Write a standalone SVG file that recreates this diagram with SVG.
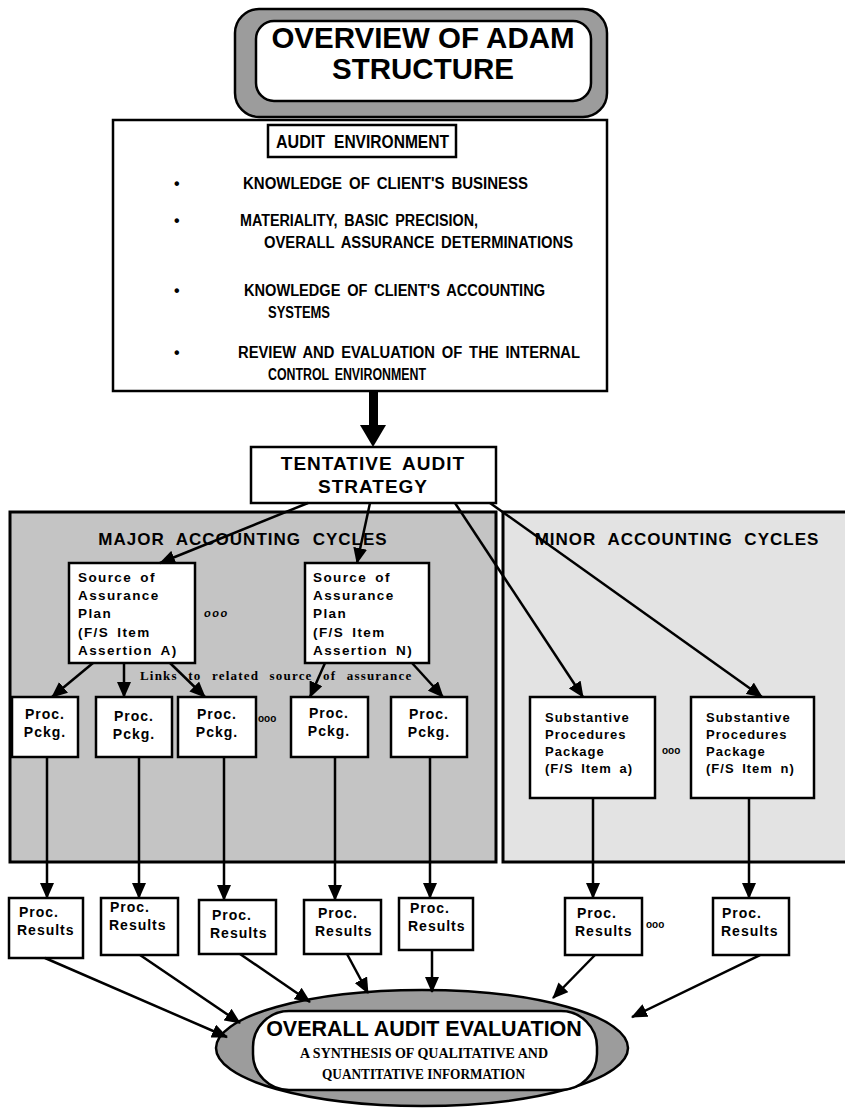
<svg xmlns="http://www.w3.org/2000/svg" width="845" height="1109" viewBox="0 0 845 1109">
  <defs>
    <style>
      .box { fill: #fff; stroke: #000; stroke-width: 2.5; }
      .t { font-family: "Liberation Sans", Arial, Helvetica, sans-serif; font-weight: bold; fill: #000; }
      .s { font-family: "Liberation Serif", "Times New Roman", serif; font-weight: bold; fill: #000; }
      .c { text-anchor: middle; }
      .small { font-size: 13px; letter-spacing: 1px; }
      .plan { font-size: 13.5px; letter-spacing: 1.4px; word-spacing: 3px; }
      .proc { font-size: 14px; letter-spacing: 1px; }
      .bul { word-spacing: 3px; }
      .conn line { stroke: #000; stroke-width: 2.5; fill: none; marker-end: url(#arrow); }
    </style>
    <marker id="arrow" markerUnits="userSpaceOnUse" markerWidth="16" markerHeight="14" refX="15" refY="7" orient="auto">
      <path d="M0,0 L16,7 L0,14 z" fill="#000"/>
    </marker>
  </defs>

  <rect width="845" height="1109" fill="#fff"/>

  <!-- title -->
  <g id="title">
    <rect x="235" y="9" width="372" height="108" rx="24" fill="#9c9c9c" stroke="#000" stroke-width="2.5"/>
    <rect x="256" y="21" width="335" height="80" rx="18" class="box"/>
    <text class="t c" x="423" y="48" font-size="29.5">OVERVIEW OF ADAM</text>
    <text class="t c" x="423" y="79" font-size="29.5">STRUCTURE</text>
  </g>

  <!-- audit environment -->
  <g id="audit-environment">
    <rect x="113" y="120" width="494" height="271" class="box" stroke-width="3"/>
    <rect x="268" y="125" width="188" height="32" class="box"/>
    <text class="t" x="276" y="148" font-size="18" textLength="49" lengthAdjust="spacingAndGlyphs">AUDIT</text>
    <text class="t" x="334" y="148" font-size="18" textLength="115" lengthAdjust="spacingAndGlyphs">ENVIRONMENT</text>
    <g class="t bul" font-size="16">
      <text x="174" y="189">•</text>
      <text x="243" y="189" textLength="285" lengthAdjust="spacingAndGlyphs">KNOWLEDGE OF CLIENT'S BUSINESS</text>
      <text x="174" y="226">•</text>
      <text x="240" y="226" textLength="238" lengthAdjust="spacingAndGlyphs">MATERIALITY, BASIC PRECISION,</text>
      <text x="264" y="248" textLength="309" lengthAdjust="spacingAndGlyphs">OVERALL ASSURANCE DETERMINATIONS</text>
      <text x="174" y="296">•</text>
      <text x="244" y="296" textLength="301" lengthAdjust="spacingAndGlyphs">KNOWLEDGE OF CLIENT'S ACCOUNTING</text>
      <text x="268" y="318" textLength="62" lengthAdjust="spacingAndGlyphs">SYSTEMS</text>
      <text x="174" y="358">•</text>
      <text x="238" y="358" textLength="342" lengthAdjust="spacingAndGlyphs">REVIEW AND EVALUATION OF THE INTERNAL</text>
      <text x="268" y="380" textLength="158" lengthAdjust="spacingAndGlyphs">CONTROL ENVIRONMENT</text>
    </g>
  </g>

  <!-- heavy arrow into the strategy box -->
  <g id="env-arrow">
    <rect x="369" y="391" width="9" height="36" fill="#000"/>
    <polygon points="360,425 386,425 373,447" fill="#000"/>
  </g>

  <!-- cycle panels -->
  <g id="major-cycles">
    <rect x="10" y="512" width="486" height="350" fill="#c4c4c4" stroke="#000" stroke-width="3"/>
    <text class="t c" x="243" y="545" font-size="17" letter-spacing="1" word-spacing="6">MAJOR ACCOUNTING CYCLES</text>
  </g>
  <g id="minor-cycles">
    <rect x="503" y="512" width="346" height="350" fill="#e3e3e3" stroke="#000" stroke-width="3"/>
    <text class="t c" x="677" y="545" font-size="17" letter-spacing="1" word-spacing="6">MINOR ACCOUNTING CYCLES</text>
  </g>

  <!-- strategy -->
  <g id="strategy">
    <rect x="251" y="447" width="245" height="56" class="box" stroke-width="3"/>
    <text class="t c" x="373" y="470" font-size="19" letter-spacing="1" word-spacing="4">TENTATIVE AUDIT</text>
    <text class="t c" x="373" y="493" font-size="19" letter-spacing="1">STRATEGY</text>
  </g>

  <!-- source of assurance plans -->
  <g id="plan-a">
    <rect x="69" y="563" width="126" height="100" class="box"/>
    <g class="t plan">
      <text x="78" y="582">Source of</text>
      <text x="78" y="600">Assurance</text>
      <text x="78" y="618">Plan</text>
      <text x="78" y="637">(F/S Item</text>
      <text x="78" y="655">Assertion A)</text>
    </g>
  </g>
  <text class="t" x="204" y="617" font-size="11" font-style="italic" letter-spacing="1.5">ooo</text>
  <g id="plan-n">
    <rect x="305" y="563" width="124" height="100" class="box"/>
    <g class="t plan">
      <text x="313" y="582">Source of</text>
      <text x="313" y="600">Assurance</text>
      <text x="313" y="618">Plan</text>
      <text x="313" y="637">(F/S Item</text>
      <text x="313" y="655">Assertion N)</text>
    </g>
  </g>

  <text class="s" x="140" y="680" font-size="13" letter-spacing="1.2" word-spacing="6">Links to related source of assurance</text>

  <!-- procedure packages -->
  <g id="pckg-1">
    <rect x="12" y="697" width="66" height="60" class="box"/>
    <text class="t proc c" x="45" y="719">Proc.</text>
    <text class="t proc c" x="45" y="737">Pckg.</text>
  </g>
  <g id="pckg-2">
    <rect x="96" y="697" width="76" height="60" class="box"/>
    <text class="t proc c" x="134" y="721">Proc.</text>
    <text class="t proc c" x="134" y="739">Pckg.</text>
  </g>
  <g id="pckg-3">
    <rect x="178" y="697" width="78" height="60" class="box"/>
    <text class="t proc c" x="217" y="719">Proc.</text>
    <text class="t proc c" x="217" y="737">Pckg.</text>
  </g>
  <text class="t" x="258" y="722" font-size="10">ooo</text>
  <g id="pckg-4">
    <rect x="291" y="697" width="77" height="60" class="box"/>
    <text class="t proc c" x="329" y="718">Proc.</text>
    <text class="t proc c" x="329" y="736">Pckg.</text>
  </g>
  <g id="pckg-5">
    <rect x="391" y="697" width="76" height="60" class="box"/>
    <text class="t proc c" x="429" y="719">Proc.</text>
    <text class="t proc c" x="429" y="737">Pckg.</text>
  </g>

  <!-- substantive procedures packages -->
  <g id="subst-a">
    <rect x="530" y="697" width="125" height="101" class="box"/>
    <g class="t small">
      <text x="545" y="722">Substantive</text>
      <text x="545" y="739">Procedures</text>
      <text x="545" y="756">Package</text>
      <text x="545" y="773" word-spacing="3">(F/S Item a)</text>
    </g>
  </g>
  <text class="t" x="662" y="754" font-size="10">ooo</text>
  <g id="subst-n">
    <rect x="691" y="697" width="123" height="101" class="box"/>
    <g class="t small">
      <text x="706" y="722">Substantive</text>
      <text x="706" y="739">Procedures</text>
      <text x="706" y="756">Package</text>
      <text x="706" y="773" word-spacing="3">(F/S Item n)</text>
    </g>
  </g>

  <!-- procedure results -->
  <g id="result-1">
    <rect x="9" y="898" width="74" height="60" class="box"/>
    <text class="t proc" x="19" y="917">Proc.</text>
    <text class="t proc" x="17" y="935">Results</text>
  </g>
  <g id="result-2">
    <rect x="101" y="898" width="77" height="57" class="box"/>
    <text class="t proc" x="110" y="912">Proc.</text>
    <text class="t proc" x="109" y="930">Results</text>
  </g>
  <g id="result-3">
    <rect x="199" y="900" width="77" height="54" class="box"/>
    <text class="t proc" x="212" y="920">Proc.</text>
    <text class="t proc" x="210" y="938">Results</text>
  </g>
  <g id="result-4">
    <rect x="304" y="900" width="77" height="54" class="box"/>
    <text class="t proc" x="318" y="918">Proc.</text>
    <text class="t proc" x="315" y="936">Results</text>
  </g>
  <g id="result-5">
    <rect x="399" y="898" width="74" height="52" class="box"/>
    <text class="t proc" x="410" y="913">Proc.</text>
    <text class="t proc" x="408" y="931">Results</text>
  </g>
  <g id="result-6">
    <rect x="565" y="898" width="77" height="57" class="box"/>
    <text class="t proc" x="577" y="918">Proc.</text>
    <text class="t proc" x="575" y="936">Results</text>
  </g>
  <text class="t" x="646" y="928" font-size="10">ooo</text>
  <g id="result-7">
    <rect x="713" y="898" width="76" height="57" class="box"/>
    <text class="t proc" x="722" y="918">Proc.</text>
    <text class="t proc" x="721" y="936">Results</text>
  </g>

  <!-- overall evaluation -->
  <g id="evaluation">
    <ellipse cx="422" cy="1048" rx="206" ry="58" fill="#9c9c9c" stroke="#000" stroke-width="2.5"/>
    <rect x="253" y="1011" width="344" height="79" rx="36" class="box"/>
    <text class="t c" x="424" y="1036" font-size="21.5">OVERALL AUDIT EVALUATION</text>
    <text class="s" x="300" y="1058" font-size="14" textLength="248" lengthAdjust="spacingAndGlyphs">A SYNTHESIS OF QUALITATIVE AND</text>
    <text class="s" x="322" y="1079" font-size="14" textLength="203" lengthAdjust="spacingAndGlyphs">QUANTITATIVE INFORMATION</text>
  </g>

  <!-- connectors -->
  <g id="connectors" class="conn">
    <line x1="308" y1="503" x2="160" y2="563"/>
    <line x1="370" y1="503" x2="357" y2="563"/>
    <line x1="455" y1="503" x2="583" y2="697"/>
    <line x1="490" y1="503" x2="762" y2="697"/>

    <line x1="93" y1="663" x2="52" y2="697"/>
    <line x1="124" y1="663" x2="124" y2="697"/>
    <line x1="170" y1="663" x2="205" y2="697"/>
    <line x1="325" y1="663" x2="310" y2="697"/>
    <line x1="412" y1="663" x2="443" y2="697"/>

    <line x1="47" y1="757" x2="47" y2="898"/>
    <line x1="139" y1="757" x2="139" y2="898"/>
    <line x1="224" y1="757" x2="224" y2="900"/>
    <line x1="335" y1="757" x2="335" y2="900"/>
    <line x1="430" y1="757" x2="430" y2="898"/>
    <line x1="593" y1="798" x2="593" y2="898"/>
    <line x1="749" y1="798" x2="749" y2="898"/>

    <line x1="45" y1="958" x2="227" y2="1037"/>
    <line x1="140" y1="955" x2="240" y2="1023"/>
    <line x1="240" y1="954" x2="310" y2="1002"/>
    <line x1="347" y1="954" x2="368" y2="993"/>
    <line x1="432" y1="950" x2="432" y2="992"/>
    <line x1="595" y1="955" x2="553" y2="998"/>
    <line x1="760" y1="955" x2="632" y2="1017"/>
  </g>
</svg>
